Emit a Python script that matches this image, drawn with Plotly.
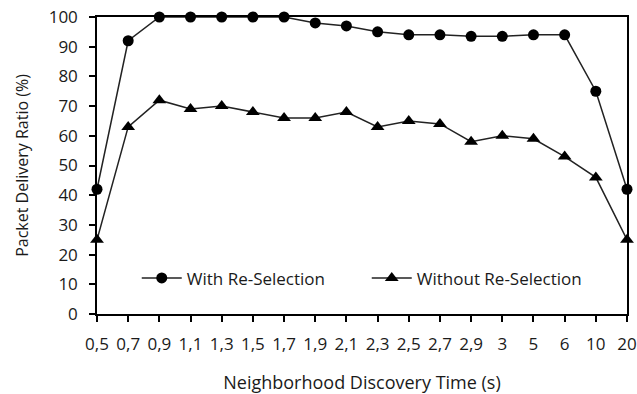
import plotly.graph_objects as go

# Neighborhood discovery time (s), shown as category labels
discovery_time = ["0,5", "0,7", "0,9", "1,1", "1,3", "1,5", "1,7", "1,9", "2,1",
                  "2,3", "2,5", "2,7", "2,9", "3", "5", "6", "10", "20"]

# Packet delivery ratio (%) for each strategy
with_reselection = [42, 92, 100, 100, 100, 100, 100, 98, 97,
                    95, 94, 94, 93.5, 93.5, 94, 94, 75, 42]
without_reselection = [25, 63, 72, 69, 70, 68, 66, 66, 68,
                       63, 65, 64, 58, 60, 59, 53, 46, 25]

y_ticks = [0, 10, 20, 30, 40, 50, 60, 70, 80, 90, 100]

FONT = "Open Sans"
TEXT = "#1a1a1a"

fig = go.Figure()
fig.add_trace(go.Scatter(
    x=discovery_time, y=with_reselection, name="With Re-Selection",
    mode="lines+markers", cliponaxis=False,
    line=dict(color="#222222", width=1.5),
    marker=dict(symbol="circle", size=11, color="black"),
))
fig.add_trace(go.Scatter(
    x=discovery_time, y=without_reselection, name="Without Re-Selection",
    mode="lines+markers", cliponaxis=False,
    line=dict(color="#222222", width=1.5),
    marker=dict(symbol="triangle-up", size=12, color="black"),
))

fig.update_layout(
    width=637, height=394,
    margin=dict(l=97, r=10, t=17, b=80),
    paper_bgcolor="white", plot_bgcolor="white",
    font=dict(family=FONT, size=17, color=TEXT),
    showlegend=True,
    legend=dict(
        orientation="h", x=0.075, y=0.12, xanchor="left", yanchor="middle",
        bgcolor="rgba(0,0,0,0)", itemwidth=40, entrywidth=175,
        font=dict(family=FONT, size=17, color=TEXT),
    ),
    xaxis=dict(
        type="category", range=[0, len(discovery_time) - 1],
        automargin=False,
        showline=True, linecolor="black", linewidth=1.5, mirror=True,
        ticks="outside", ticklen=6, tickwidth=1.5, tickcolor="black",
        ticklabelstandoff=8, tickfont=dict(size=17),
        showgrid=False, zeroline=False,
        title=dict(text="Neighborhood Discovery Time (s)", standoff=24,
                   font=dict(family=FONT, size=18, color=TEXT)),
    ),
    yaxis=dict(
        range=[0, 100], tickvals=y_ticks, automargin=False,
        showline=True, linecolor="black", linewidth=1.5, mirror=True,
        ticks="outside", ticklen=6, tickwidth=1.5, tickcolor="black",
        ticklabelstandoff=8, tickfont=dict(size=17),
        showgrid=False, zeroline=False,
        title=dict(text="Packet Delivery Ratio (%)", standoff=16,
                   font=dict(family=FONT, size=16, color=TEXT)),
    ),
)

fig.write_html("out.html")
